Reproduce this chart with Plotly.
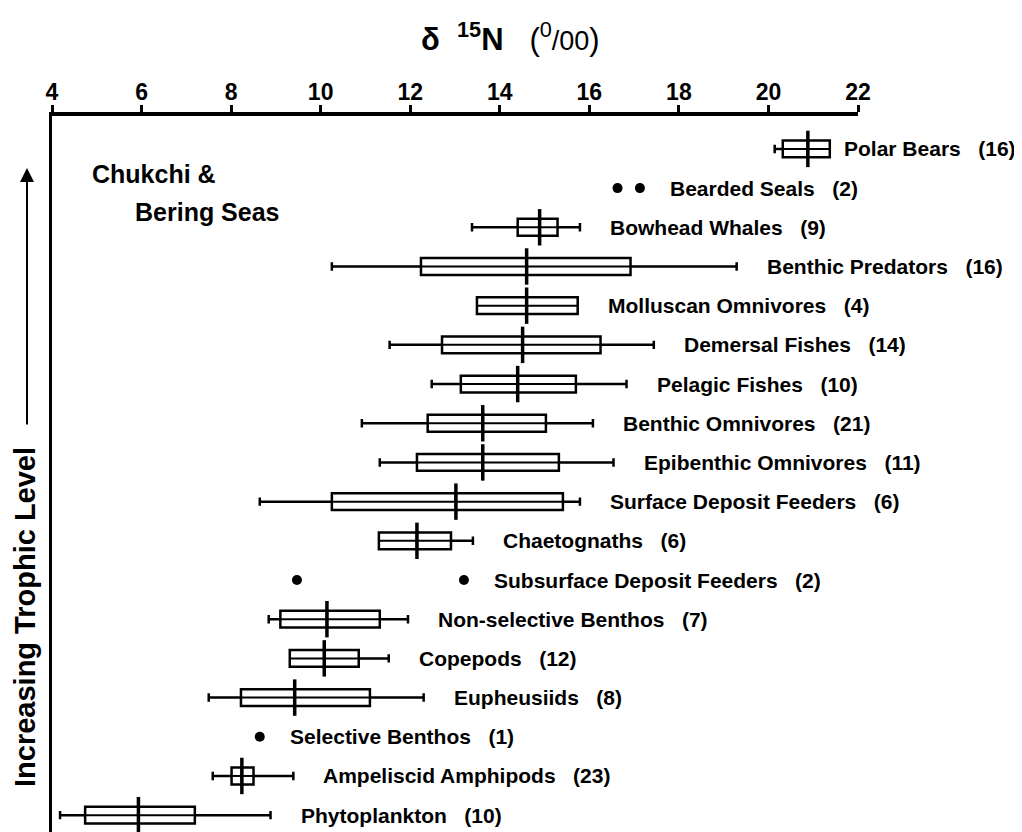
import plotly.graph_objects as go

# ---- data ----
groups = ["Polar Bears", "Bearded Seals", "Bowhead Whales", "Benthic Predators",
          "Molluscan Omnivores", "Demersal Fishes", "Pelagic Fishes", "Benthic Omnivores",
          "Epibenthic Omnivores", "Surface Deposit Feeders", "Chaetognaths",
          "Subsurface Deposit Feeders", "Non-selective Benthos", "Copepods",
          "Eupheusiids", "Selective Benthos", "Ampeliscid Amphipods", "Phytoplankton"]
sample_n = [16, 2, 9, 16, 4, 14, 10, 21, 11, 6, 6, 2, 7, 12, 8, 1, 23, 10]

box_groups = ["Polar Bears", "Bowhead Whales", "Benthic Predators", "Molluscan Omnivores",
              "Demersal Fishes", "Pelagic Fishes", "Benthic Omnivores", "Epibenthic Omnivores",
              "Surface Deposit Feeders", "Chaetognaths", "Non-selective Benthos", "Copepods",
              "Eupheusiids", "Ampeliscid Amphipods", "Phytoplankton"]
low_vals = [20.14, 13.38, 10.25, 13.49, 11.54, 12.48, 10.92, 11.32, 8.64, 11.30, 8.84, 9.31, 7.50, 7.59, 4.18]
q1_vals = [20.32, 14.40, 12.24, 13.49, 12.71, 13.13, 12.39, 12.15, 10.25, 11.30, 9.10, 9.31, 8.22, 8.01, 4.74]
median_vals = [20.88, 14.89, 14.60, 14.60, 14.51, 14.40, 13.62, 13.62, 13.02, 12.15, 10.14, 10.08, 9.42, 8.24, 5.93]
q3_vals = [21.37, 15.29, 16.92, 15.74, 16.25, 15.70, 15.03, 15.32, 15.41, 12.91, 11.32, 10.85, 11.10, 8.50, 7.19]
high_vals = [21.37, 15.79, 19.29, 15.74, 17.44, 16.83, 16.08, 16.54, 15.79, 13.40, 11.95, 11.52, 12.30, 9.39, 8.88]

point_groups = ["Bearded Seals", "Bearded Seals", "Subsurface Deposit Feeders",
                "Subsurface Deposit Feeders", "Selective Benthos"]
point_vals = [16.63, 17.13, 9.47, 13.20, 8.64]

x_ticks = [4, 6, 8, 10, 12, 14, 16, 18, 20, 22]

# ---- figure ----
FONT = "Liberation Sans, Arial, sans-serif"
fig = go.Figure()

fig.add_trace(go.Box(
    y=box_groups, q1=q1_vals, median=median_vals, q3=q3_vals,
    lowerfence=low_vals, upperfence=high_vals, orientation="h",
    width=0.43, whiskerwidth=0.5, fillcolor="white",
    line=dict(color="black", width=2.5), boxpoints=False, hoverinfo="skip",
    showlegend=False))

# inner horizontal line of each box
mx, my = [], []
for g, a, b in zip(box_groups, q1_vals, q3_vals):
    mx += [a, b, None]
    my += [g, g, None]
fig.add_trace(go.Scatter(x=mx, y=my, mode="lines", line=dict(color="black", width=2),
                         showlegend=False, hoverinfo="skip"))

# long median ticks
fig.add_trace(go.Scatter(x=median_vals, y=box_groups, mode="markers",
                         marker=dict(symbol="line-ns", size=26,
                                     line=dict(color="black", width=3.5)),
                         showlegend=False, hoverinfo="skip"))

# single observations
fig.add_trace(go.Scatter(x=point_vals, y=point_groups, mode="markers",
                         marker=dict(symbol="circle", size=10, color="black"),
                         showlegend=False, hoverinfo="skip"))

# labels to the right of each row
row_max = {}
for g, v in zip(box_groups, high_vals):
    row_max[g] = max(row_max.get(g, v), v)
for g, v in zip(point_groups, point_vals):
    row_max[g] = max(row_max.get(g, v), v)
shift_override = {"Polar Bears": 12}
for i, (g, n) in enumerate(zip(groups, sample_n)):
    fig.add_annotation(x=row_max[g], y=i, xref="x", yref="y",
                       text=f"<b>{g}\u00a0\u00a0\u00a0({n})</b>", showarrow=False,
                       xanchor="left", yanchor="middle",
                       xshift=shift_override.get(g, 28),
                       font=dict(family=FONT, size=21, color="black"))

# axis title at top
fig.add_annotation(x=(510 - 52) / 806, y=(832 - 37) / 716, xref="paper", yref="paper",
                   text="<b>δ\u00a0\u00a0<sup>15</sup>N</b>\u00a0\u00a0\u00a0(<sup>0</sup>"
                        "<span style='font-size:27px'>/00</span>)",
                   showarrow=False, xanchor="center", yanchor="middle",
                   font=dict(family=FONT, size=31, color="black"))

# region text
fig.add_annotation(x=(90 - 52) / 806, y=(832 - 174) / 716, xref="paper", yref="paper",
                   text="<b>Chukchi &</b>", showarrow=False, xanchor="left",
                   yanchor="middle", font=dict(family=FONT, size=25, color="black"))
fig.add_annotation(x=(133 - 52) / 806, y=(832 - 212) / 716, xref="paper", yref="paper",
                   text="<b>Bering Seas</b>", showarrow=False, xanchor="left",
                   yanchor="middle", font=dict(family=FONT, size=25, color="black"))

# trophic level label and arrow
fig.add_annotation(x=(25 - 52) / 806, y=(832 - 617) / 716, xref="paper", yref="paper",
                   text="<b>Increasing Trophic Level</b>", textangle=-90, showarrow=False,
                   xanchor="center", yanchor="middle",
                   font=dict(family=FONT, size=29, color="black"))
fig.add_annotation(x=(27 - 52) / 806, y=(832 - 168) / 716, xref="paper", yref="paper",
                   text="", showarrow=True, ax=0, ay=258, arrowhead=2, arrowsize=1.4,
                   arrowwidth=2, arrowcolor="black")

# the page body adds an 8 px offset, so margins are reduced by 8 on the left/top
fig.update_layout(
    width=1022, height=832,
    margin=dict(l=44, r=172, t=108, b=8),
    paper_bgcolor="white", plot_bgcolor="white",
    font=dict(family=FONT, color="black"),
    xaxis=dict(range=[4, 22], side="top", tickvals=x_ticks,
               ticktext=[f"<b>{t}</b>" for t in x_ticks],
               ticks="outside", ticklen=7, tickwidth=2.5, tickcolor="black",
               showline=True, linewidth=3.5, linecolor="black", showgrid=False,
               zeroline=False, tickfont=dict(family=FONT, size=23, color="black"),
               ticklabelstandoff=-4),
    yaxis=dict(type="category", categoryorder="array", categoryarray=groups,
               range=[17.43, -0.84], showticklabels=False, ticks="",
               showline=True, linewidth=3, linecolor="black", showgrid=False,
               zeroline=False),
)

fig.write_html("out.html")
